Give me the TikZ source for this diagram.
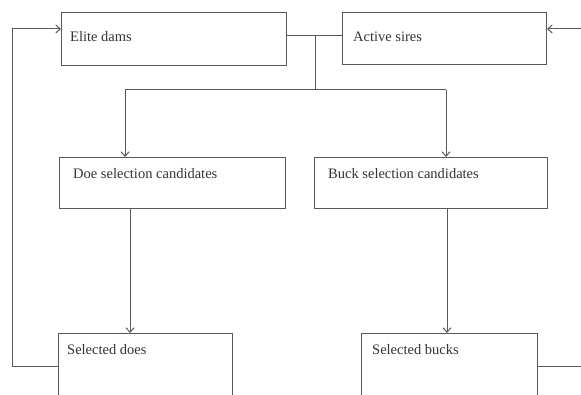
\documentclass[tikz,border=0pt]{standalone}
\usepackage{fontspec}
\setmainfont{Liberation Serif}
\usetikzlibrary{arrows.meta}
\begin{document}
\begin{tikzpicture}[x=1pt,y=-1pt,
  boxst/.style={draw=black!65,line width=1pt,rectangle,anchor=north west,inner sep=0pt},
  lbl/.style={anchor=base west,inner sep=0pt,text=black!80,font=\fontsize{14.5}{17}\selectfont},
  ln/.style={draw=black!65,line width=1pt},
  arr/.style={ln,-{Straight Barb[length=4.5pt,width=8pt,line width=1pt]}}]
\useasboundingbox (0,0) rectangle (581,395);
\clip (0,0) rectangle (581,395);
\node[boxst,minimum width=225pt,minimum height=53pt] (ed) at (61,12) {};
\node[boxst,minimum width=204pt,minimum height=52pt] (as) at (342,12) {};
\node[boxst,minimum width=226pt,minimum height=51pt] (dc) at (59,157) {};
\node[boxst,minimum width=233pt,minimum height=51pt] (bc) at (314,157) {};
\node[boxst,minimum width=174pt,minimum height=75pt] (sd) at (58,333) {};
\node[boxst,minimum width=176pt,minimum height=75pt] (sb) at (361,333) {};
\node[lbl] (t1) at (70,42) {Elite dams};
\node[lbl] (t2) at (353,42) {Active sires};
\node[lbl] (t3) at (73,179) {Doe selection candidates};
\node[lbl] (t4) at (328,179) {Buck selection candidates};
\node[lbl] (t5) at (67,355) {Selected does};
\node[lbl] (t6) at (372,355) {Selected bucks};
% top junction
\coordinate (J) at (315,36);
\coordinate (J2) at (315,90);
\coordinate (HL) at (125,90);
\coordinate (HR) at (446,90);
\draw[ln] (ed.east |- J) -- (as.west |- J);
\draw[ln] (J) -- (J2);
\draw[ln] (HL) -- (HR);
\draw[arr] (HL) -- (HL |- dc.north);
\draw[arr] (HR) -- (HR |- bc.north);
% candidates to selected
\draw[arr] ([xshift=71pt]dc.south west) -- ([xshift=72pt]sd.north west);
\draw[arr] ([xshift=133pt]bc.south west) -- ([xshift=86pt]sb.north west);
% left feedback loop
\coordinate (L1) at (12,366);
\coordinate (L2) at (12,29);
\draw[arr] (sd.west |- L1) -- (L1) -- (L2) -- (L2 -| ed.west);
% right side
\coordinate (R1) at (581,29);
\coordinate (R2) at (581,366);
\draw[arr] (R1) -- (R1 -| as.east);
\draw[ln] (sb.east |- R2) -- (R2);
\end{tikzpicture}
\end{document}
